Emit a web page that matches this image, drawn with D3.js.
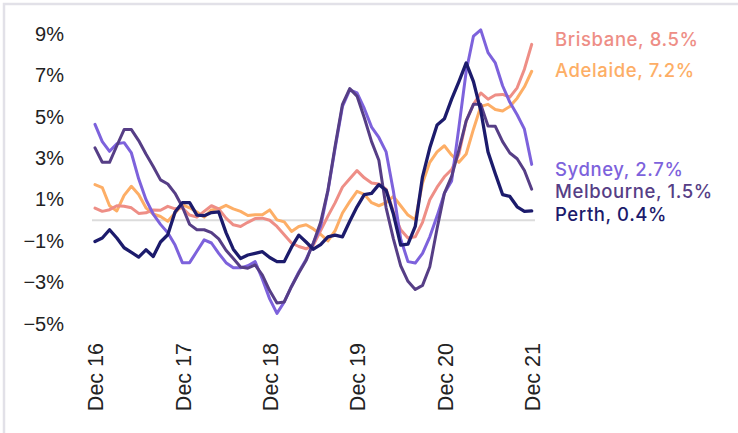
<!DOCTYPE html>
<html><head><meta charset="utf-8">
<script src="https://cdn.jsdelivr.net/npm/d3@7"></script>
<style>
html,body{margin:0;padding:0;background:#fff;}
svg{display:block;}
.ytick text{font-family:"Liberation Sans",Arial,sans-serif;font-size:20px;fill:#222;}
.xtick text{font-family:"Liberation Sans",Arial,sans-serif;font-size:21.5px;fill:#222;}
.endlab{font-family:Inter,"Open Sans",sans-serif;font-size:18.5px;font-weight:500;letter-spacing:0.6px;}
</style></head>
<body><svg id="c" width="738" height="433"></svg>
<script>
// ---- data (annual % change, monthly Dec 2016 - Dec 2021) ----
const xTickLabels = ["Dec 16","Dec 17","Dec 18","Dec 19","Dec 20","Dec 21"];
const xTickIndex = [0,12,24,36,48,60];
const yTicks = [-5,-3,-1,1,3,5,7,9];
const yTickLabels = ["−5%","−3%","−1%","1%","3%","5%","7%","9%"];

const sydney = [4.63,3.8,3.33,3.7,3.75,3.25,2.0,1.0,0.3,-0.2,-0.6,-1.2,-2.05,-2.05,-1.5,-0.95,-1.1,-1.6,-2.05,-2.3,-2.3,-2.2,-2.0,-2.85,-3.8,-4.5,-3.95,-3.2,-2.5,-1.9,-1.1,-0.3,1.4,3.5,5.5,6.3,6.15,5.4,4.5,4.0,3.3,1.4,-0.9,-2.0,-2.07,-1.6,-0.8,0.2,1.3,1.9,4.5,7.2,8.9,9.2,8.1,7.6,6.5,5.7,5.1,4.4,2.7];
const melbourne = [3.5,2.8,2.8,3.6,4.38,4.38,3.85,3.2,2.6,1.95,1.75,1.3,0.65,-0.2,-0.46,-0.46,-0.6,-0.9,-1.45,-1.85,-2.26,-2.32,-2.16,-2.65,-3.4,-4.0,-3.95,-3.2,-2.55,-1.95,-1.1,-0.1,1.45,3.6,5.6,6.36,6.0,4.95,3.8,2.9,0.6,-0.9,-2.2,-2.95,-3.35,-3.15,-2.25,-0.4,1.3,2.12,3.4,4.8,5.6,5.6,4.55,4.54,3.8,3.25,2.97,2.4,1.5];
const perth = [-1.03,-0.86,-0.46,-0.86,-1.33,-1.55,-1.78,-1.43,-1.75,-1.05,-0.7,0.4,0.85,0.85,0.25,0.22,0.37,0.4,-0.6,-1.4,-1.85,-1.68,-1.6,-1.52,-1.8,-2.0,-2.0,-1.3,-0.72,-1.05,-1.4,-1.18,-0.8,-0.72,-0.8,-0.05,0.65,1.24,1.3,1.72,1.45,0.3,-1.2,-1.15,-0.3,2.1,3.5,4.6,4.9,5.85,6.7,7.6,6.7,5.3,3.3,2.25,1.24,1.15,0.65,0.43,0.45];
const brisbane = [0.59,0.43,0.51,0.7,0.68,0.6,0.33,0.36,0.5,0.48,0.67,0.55,0.6,0.25,0.15,0.43,0.7,0.55,0.1,-0.22,-0.3,-0.1,0.08,0.1,0.0,-0.3,-0.7,-1.1,-1.27,-1.38,-1.2,-0.5,0.2,0.85,1.6,2.0,2.4,2.05,1.8,1.75,1.5,0.4,-0.46,-0.86,-0.8,-0.1,0.99,1.6,2.1,2.45,3.2,4.8,5.6,6.15,5.85,6.05,6.08,5.95,6.4,7.3,8.5];
const adelaide = [1.72,1.58,0.7,0.45,1.2,1.64,1.24,0.6,0.3,0.18,-0.05,0.35,0.75,0.6,0.4,0.15,0.5,0.55,0.72,0.55,0.43,0.23,0.27,0.27,0.5,0.02,-0.08,-0.54,-0.3,-0.22,-0.42,-0.68,-1.0,-0.5,0.35,0.9,1.4,1.25,0.85,0.7,0.85,1.15,0.7,0.25,0.02,1.8,2.8,3.3,3.6,3.15,2.8,3.2,4.4,5.5,5.6,5.35,5.28,5.5,5.9,6.45,7.2];

const seriesNames = ["Brisbane","Adelaide","Sydney","Melbourne","Perth"];
const seriesLabels = ["Brisbane, 8.5%","Adelaide, 7.2%","Sydney, 2.7%","Melbourne, 1.5%","Perth, 0.4%"];
const seriesColors = ["#EE8E86","#FDAE66","#7D62DC","#563E86","#1C1B6C"];
const seriesData = [brisbane, adelaide, sydney, melbourne, perth];
const drawOrder = [1,0,2,3,4];
const labelY = [46,77,175.5,198,220.5];

// ---- chart ----
const svg = d3.select("#c");
const x = d3.scaleLinear().domain([0,60]).range([95,531.7]);
const y = d3.scaleLinear().domain([-5,9]).range([323.7,34]);

// frame
svg.append("path").attr("d","M4,440 L4,4 L740,4").attr("fill","none")
  .attr("stroke","#e2e1e8").attr("stroke-width",2.5);

// zero line
svg.append("line").attr("x1",92).attr("x2",535).attr("y1",y(0)).attr("y2",y(0))
  .attr("stroke","#dcdcdc").attr("stroke-width",2);

// y axis
const ya = svg.append("g").attr("class","ytick").attr("transform","translate(64,0)")
  .call(d3.axisLeft(y).tickValues(yTicks).tickSize(0).tickPadding(0)
    .tickFormat((d,i)=>yTickLabels[i]));
ya.select(".domain").remove();

// x axis
const xa = svg.append("g").attr("class","xtick").attr("transform","translate(0,343)")
  .call(d3.axisBottom(x).tickValues(xTickIndex).tickSize(0).tickPadding(0)
    .tickFormat((d,i)=>xTickLabels[i]));
xa.select(".domain").remove();
xa.selectAll("text").attr("transform","rotate(-90)").attr("text-anchor","end")
  .attr("x",0).attr("y",0).attr("dy","0.36em").attr("dx",0);

// lines
const line = d3.line().x((d,i)=>x(i)).y(d=>y(d)).curve(d3.curveLinear);
drawOrder.forEach(k=>{
  svg.append("path").datum(seriesData[k]).attr("d",line)
    .attr("fill","none").attr("stroke",seriesColors[k])
    .attr("stroke-width",k===4?3.3:3).attr("stroke-linejoin","round").attr("stroke-linecap","round");
});

// end labels
seriesNames.forEach((n,k)=>{
  svg.append("text").attr("class","endlab").attr("x",555).attr("y",labelY[k])
    .attr("fill",seriesColors[k]).text(seriesLabels[k]);
});
</script></body></html>
